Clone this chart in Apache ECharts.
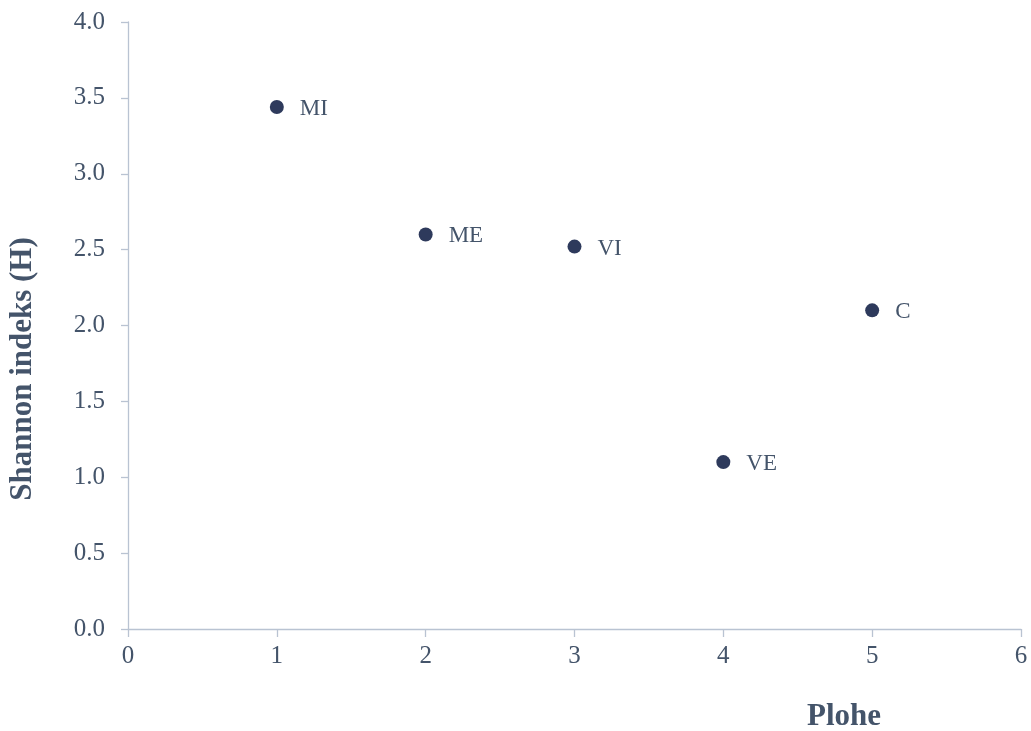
<!DOCTYPE html>
<html><head><meta charset="utf-8">
<script src="https://cdn.jsdelivr.net/npm/echarts@6/dist/echarts.min.js"></script>
<style>html,body{margin:0;padding:0;background:#fff}#c{width:1031px;height:731px}</style>
</head><body><div id="c"></div>
<script>
const labels = ['MI','ME','VI','VE','C'];
const xValues = [1,2,3,4,5];
const yValues = [3.44,2.60,2.52,1.10,2.10];
const xTicks = [0,1,2,3,4,5,6];
const yTicks = [0,0.5,1,1.5,2,2.5,3,3.5,4];

const txt = '#44546a';
const axisCol = '#b9c3d2';
const font = '"Liberation Serif", "Times New Roman", serif';
const chart = echarts.init(document.getElementById('c'));
chart.setOption({
  animation: false,
  textStyle: {fontFamily: font},
  grid: {left: 128, right: 10, top: 22, bottom: 102},
  xAxis: {
    type: 'value', min: xTicks[0], max: xTicks[xTicks.length-1], interval: 1,
    axisLine: {lineStyle: {color: axisCol, width: 1.3}},
    axisTick: {show: true, length: 8, lineStyle: {color: axisCol, width: 1.3}},
    splitLine: {show: false},
    axisLabel: {color: txt, fontSize: 25, fontFamily: font, margin: 15}
  },
  yAxis: {
    type: 'value', min: yTicks[0], max: yTicks[yTicks.length-1], interval: 0.5,
    axisLine: {show: true, lineStyle: {color: axisCol, width: 1.3}},
    axisTick: {show: true, length: 7, lineStyle: {color: axisCol, width: 1.3}},
    splitLine: {show: false},
    axisLabel: {color: txt, fontSize: 25, fontFamily: font, margin: 23,
      formatter: v => v.toFixed(1)}
  },
  graphic: [
    {type: 'text', x: 844, y: 717, style: {text: 'Plohe', fill: txt,
      font: 'bold 31px ' + font, align: 'center', verticalAlign: 'middle'}},
    {type: 'text', x: 23, y: 369, rotation: Math.PI/2, style: {text: 'Shannon indeks (H)',
      fill: txt, font: 'bold 31px ' + font, align: 'center', verticalAlign: 'middle'}}
  ],
  series: [{
    type: 'scatter',
    symbolSize: 14,
    itemStyle: {color: '#2e3a5c', opacity: 1},
    data: xValues.map((x,i) => ({value: [x, yValues[i]], name: labels[i]})),
    label: {show: true, position: 'right', distance: 16, formatter: p => p.name,
      color: txt, fontSize: 23, fontFamily: font, offset: [0, 2]}
  }]
});
</script></body></html>
